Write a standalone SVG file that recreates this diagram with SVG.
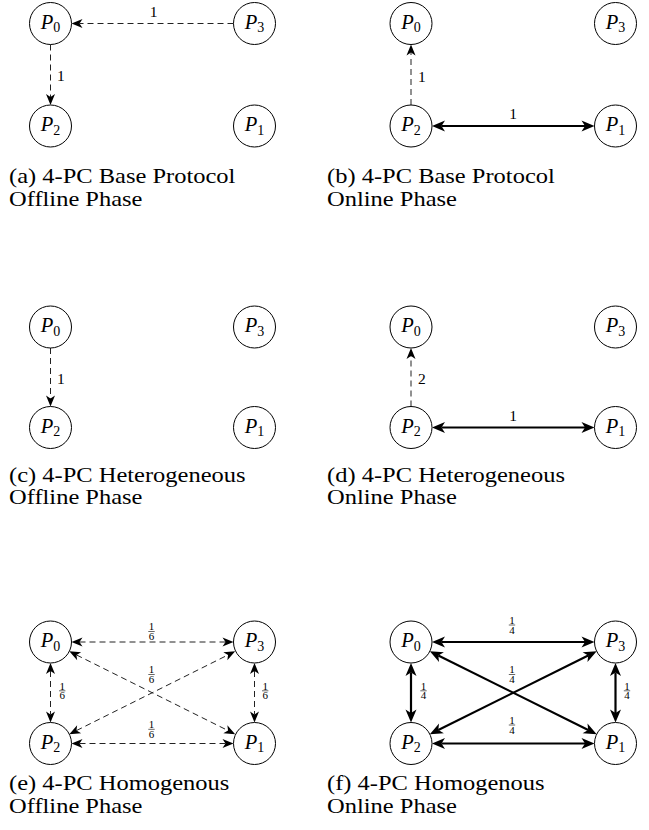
<svg xmlns="http://www.w3.org/2000/svg" width="649" height="830" viewBox="0 0 649 830">
<style>
.node circle{fill:#fff;stroke:#000;stroke-width:1}
.node text{font-family:"Liberation Serif",serif;font-size:20.5px;text-anchor:middle;fill:#000}
.node .v{font-style:italic}
.node .s{font-size:14px}
.dash{stroke:#222;stroke-width:1;stroke-dasharray:6 4;fill:none}
.thick{stroke:#000;stroke-width:2.2;fill:none}
.el{font-family:"Liberation Serif",serif;font-size:15.5px;fill:#000}
.fr text{font-family:"Liberation Serif",serif;font-size:11px;text-anchor:middle;fill:#000}
.fr line{stroke:#000;stroke-width:0.6}
.cap{font-family:"Liberation Serif",serif;font-size:21.5px;fill:#000}
</style>
<defs>
<marker id="at" markerUnits="userSpaceOnUse" orient="auto-start-reverse" markerWidth="20" markerHeight="20" viewBox="-10 -10 20 20" refX="0" refY="0" overflow="visible">
<path d="M8,0 L-3,4.5 L0,0 L-3,-4.5 Z" fill="#000"/>
</marker>
<marker id="ak" markerUnits="userSpaceOnUse" orient="auto-start-reverse" markerWidth="24" markerHeight="24" viewBox="-12 -12 24 24" refX="0" refY="0" overflow="visible">
<path d="M9.5,0 L-3.5,5.5 L0,0 L-3.5,-5.5 Z" fill="#000"/>
</marker>
</defs>

<g id="connectors">
<!-- (a) -->
<line class="dash" x1="233.5" y1="23.5" x2="79.5" y2="23.5" marker-end="url(#at)"/>
<line class="dash" x1="50.5" y1="44.5" x2="50.5" y2="97" marker-end="url(#at)"/>
<!-- (b) -->
<line class="dash" x1="411" y1="105" x2="411" y2="52.5" marker-end="url(#at)"/>
<line class="thick" x1="441.5" y1="126" x2="585" y2="126" marker-start="url(#ak)" marker-end="url(#ak)"/>
<!-- (c) -->
<line class="dash" x1="50.5" y1="348" x2="50.5" y2="398.5" marker-end="url(#at)"/>
<!-- (d) -->
<line class="dash" x1="411" y1="406.5" x2="411" y2="356" marker-end="url(#at)"/>
<line class="thick" x1="441.5" y1="427.5" x2="585" y2="427.5" marker-start="url(#ak)" marker-end="url(#ak)"/>
<!-- (e) -->
<line class="dash" x1="79.5" y1="642" x2="225.5" y2="642" marker-start="url(#at)" marker-end="url(#at)"/>
<line class="dash" x1="79.5" y1="743.5" x2="225.5" y2="743.5" marker-start="url(#at)" marker-end="url(#at)"/>
<line class="dash" x1="50.5" y1="671" x2="50.5" y2="714.5" marker-start="url(#at)" marker-end="url(#at)"/>
<line class="dash" x1="254.5" y1="671" x2="254.5" y2="714.5" marker-start="url(#at)" marker-end="url(#at)"/>
<line class="dash" x1="76.46" y1="654.92" x2="228.04" y2="730.58" marker-start="url(#at)" marker-end="url(#at)"/>
<line class="dash" x1="76.46" y1="730.58" x2="228.04" y2="654.92" marker-start="url(#at)" marker-end="url(#at)"/>
<!-- (f) -->
<line class="thick" x1="441.5" y1="642" x2="585" y2="642" marker-start="url(#ak)" marker-end="url(#ak)"/>
<line class="thick" x1="441.5" y1="743.5" x2="585" y2="743.5" marker-start="url(#ak)" marker-end="url(#ak)"/>
<line class="thick" x1="411" y1="672.5" x2="411" y2="713" marker-start="url(#ak)" marker-end="url(#ak)"/>
<line class="thick" x1="615.5" y1="672.5" x2="615.5" y2="713" marker-start="url(#ak)" marker-end="url(#ak)"/>
<line class="thick" x1="438.32" y1="655.56" x2="588.18" y2="729.94" marker-start="url(#ak)" marker-end="url(#ak)"/>
<line class="thick" x1="438.32" y1="729.94" x2="588.18" y2="655.56" marker-start="url(#ak)" marker-end="url(#ak)"/>

<!-- edge labels -->
<text class="el" x="153.5" y="17" text-anchor="middle">1</text>
<text class="el" x="57" y="81">1</text>
<text class="el" x="418" y="81.5">1</text>
<text class="el" x="513" y="119" text-anchor="middle">1</text>
<text class="el" x="57" y="384">1</text>
<text class="el" x="418" y="383.5">2</text>
<text class="el" x="513" y="421" text-anchor="middle">1</text>

<g class="fr"><text><tspan x="151.5" y="630.3">1</tspan><tspan x="151.5" y="640">6</tspan></text><line x1="148.3" y1="631.5" x2="154.7" y2="631.5"/></g>
<g class="fr"><text><tspan x="151.5" y="673.3">1</tspan><tspan x="151.5" y="683">6</tspan></text><line x1="148.3" y1="674.5" x2="154.7" y2="674.5"/></g>
<g class="fr"><text><tspan x="151.5" y="728.1">1</tspan><tspan x="151.5" y="737.8">6</tspan></text><line x1="148.3" y1="729.3" x2="154.7" y2="729.3"/></g>
<g class="fr"><text><tspan x="62.2" y="689.6">1</tspan><tspan x="62.2" y="699.3">6</tspan></text><line x1="59" y1="690.8" x2="65.4" y2="690.8"/></g>
<g class="fr"><text><tspan x="265.2" y="689.6">1</tspan><tspan x="265.2" y="699.3">6</tspan></text><line x1="262" y1="690.8" x2="268.4" y2="690.8"/></g>

<g class="fr"><text><tspan x="512" y="623.8">1</tspan><tspan x="512" y="633.5">4</tspan></text><line x1="508.8" y1="625" x2="515.2" y2="625"/></g>
<g class="fr"><text><tspan x="512" y="673.3">1</tspan><tspan x="512" y="683">4</tspan></text><line x1="508.8" y1="674.5" x2="515.2" y2="674.5"/></g>
<g class="fr"><text><tspan x="512" y="723.8">1</tspan><tspan x="512" y="733.5">4</tspan></text><line x1="508.8" y1="725" x2="515.2" y2="725"/></g>
<g class="fr"><text><tspan x="423.5" y="689.6">1</tspan><tspan x="423.5" y="699.3">4</tspan></text><line x1="420.3" y1="690.8" x2="426.7" y2="690.8"/></g>
<g class="fr"><text><tspan x="627" y="689.6">1</tspan><tspan x="627" y="699.3">4</tspan></text><line x1="623.8" y1="690.8" x2="630.2" y2="690.8"/></g>
</g>

<!-- (a) nodes -->
<g id="a-P0" class="node"><circle cx="50.5" cy="23.5" r="21"/><text x="50.5" y="28.5"><tspan class="v">P</tspan><tspan class="s" dy="3.5">0</tspan></text></g>
<g id="a-P3" class="node"><circle cx="254.5" cy="23.5" r="21"/><text x="254.5" y="28.5"><tspan class="v">P</tspan><tspan class="s" dy="3.5">3</tspan></text></g>
<g id="a-P2" class="node"><circle cx="50.5" cy="126" r="21"/><text x="50.5" y="131"><tspan class="v">P</tspan><tspan class="s" dy="3.5">2</tspan></text></g>
<g id="a-P1" class="node"><circle cx="254.5" cy="126" r="21"/><text x="254.5" y="131"><tspan class="v">P</tspan><tspan class="s" dy="3.5">1</tspan></text></g>
<!-- (b) nodes -->
<g id="b-P0" class="node"><circle cx="411" cy="23.5" r="21"/><text x="411" y="28.5"><tspan class="v">P</tspan><tspan class="s" dy="3.5">0</tspan></text></g>
<g id="b-P3" class="node"><circle cx="615.5" cy="23.5" r="21"/><text x="615.5" y="28.5"><tspan class="v">P</tspan><tspan class="s" dy="3.5">3</tspan></text></g>
<g id="b-P2" class="node"><circle cx="411" cy="126" r="21"/><text x="411" y="131"><tspan class="v">P</tspan><tspan class="s" dy="3.5">2</tspan></text></g>
<g id="b-P1" class="node"><circle cx="615.5" cy="126" r="21"/><text x="615.5" y="131"><tspan class="v">P</tspan><tspan class="s" dy="3.5">1</tspan></text></g>
<!-- (c) nodes -->
<g id="c-P0" class="node"><circle cx="50.5" cy="327" r="21"/><text x="50.5" y="332"><tspan class="v">P</tspan><tspan class="s" dy="3.5">0</tspan></text></g>
<g id="c-P3" class="node"><circle cx="254.5" cy="327" r="21"/><text x="254.5" y="332"><tspan class="v">P</tspan><tspan class="s" dy="3.5">3</tspan></text></g>
<g id="c-P2" class="node"><circle cx="50.5" cy="427.5" r="21"/><text x="50.5" y="432.5"><tspan class="v">P</tspan><tspan class="s" dy="3.5">2</tspan></text></g>
<g id="c-P1" class="node"><circle cx="254.5" cy="427.5" r="21"/><text x="254.5" y="432.5"><tspan class="v">P</tspan><tspan class="s" dy="3.5">1</tspan></text></g>
<!-- (d) nodes -->
<g id="d-P0" class="node"><circle cx="411" cy="327" r="21"/><text x="411" y="332"><tspan class="v">P</tspan><tspan class="s" dy="3.5">0</tspan></text></g>
<g id="d-P3" class="node"><circle cx="615.5" cy="327" r="21"/><text x="615.5" y="332"><tspan class="v">P</tspan><tspan class="s" dy="3.5">3</tspan></text></g>
<g id="d-P2" class="node"><circle cx="411" cy="427.5" r="21"/><text x="411" y="432.5"><tspan class="v">P</tspan><tspan class="s" dy="3.5">2</tspan></text></g>
<g id="d-P1" class="node"><circle cx="615.5" cy="427.5" r="21"/><text x="615.5" y="432.5"><tspan class="v">P</tspan><tspan class="s" dy="3.5">1</tspan></text></g>
<!-- (e) nodes -->
<g id="e-P0" class="node"><circle cx="50.5" cy="642" r="21"/><text x="50.5" y="647"><tspan class="v">P</tspan><tspan class="s" dy="3.5">0</tspan></text></g>
<g id="e-P3" class="node"><circle cx="254.5" cy="642" r="21"/><text x="254.5" y="647"><tspan class="v">P</tspan><tspan class="s" dy="3.5">3</tspan></text></g>
<g id="e-P2" class="node"><circle cx="50.5" cy="743.5" r="21"/><text x="50.5" y="748.5"><tspan class="v">P</tspan><tspan class="s" dy="3.5">2</tspan></text></g>
<g id="e-P1" class="node"><circle cx="254.5" cy="743.5" r="21"/><text x="254.5" y="748.5"><tspan class="v">P</tspan><tspan class="s" dy="3.5">1</tspan></text></g>
<!-- (f) nodes -->
<g id="f-P0" class="node"><circle cx="411" cy="642" r="21"/><text x="411" y="647"><tspan class="v">P</tspan><tspan class="s" dy="3.5">0</tspan></text></g>
<g id="f-P3" class="node"><circle cx="615.5" cy="642" r="21"/><text x="615.5" y="647"><tspan class="v">P</tspan><tspan class="s" dy="3.5">3</tspan></text></g>
<g id="f-P2" class="node"><circle cx="411" cy="743.5" r="21"/><text x="411" y="748.5"><tspan class="v">P</tspan><tspan class="s" dy="3.5">2</tspan></text></g>
<g id="f-P1" class="node"><circle cx="615.5" cy="743.5" r="21"/><text x="615.5" y="748.5"><tspan class="v">P</tspan><tspan class="s" dy="3.5">1</tspan></text></g>

<g id="captions" transform="scale(1.1395,1)">
<text class="cap" x="7.9" y="183.5">(a) 4-PC Base Protocol</text>
<text class="cap" x="7.9" y="206">Offline Phase</text>
<text class="cap" x="287" y="183.5">(b) 4-PC Base Protocol</text>
<text class="cap" x="287" y="206">Online Phase</text>
<text class="cap" x="7.9" y="482">(c) 4-PC Heterogeneous</text>
<text class="cap" x="7.9" y="504.5">Offline Phase</text>
<text class="cap" x="287" y="482">(d) 4-PC Heterogeneous</text>
<text class="cap" x="287" y="504.5">Online Phase</text>
<text class="cap" x="7.9" y="790">(e) 4-PC Homogenous</text>
<text class="cap" x="7.9" y="813">Offline Phase</text>
<text class="cap" x="287" y="790">(f) 4-PC Homogenous</text>
<text class="cap" x="287" y="813">Online Phase</text>
</g>
</svg>
